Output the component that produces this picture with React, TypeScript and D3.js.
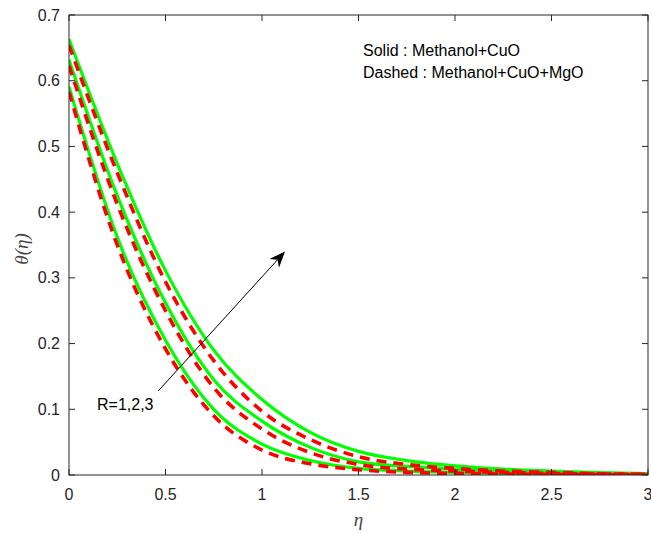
import React from "react";
import * as d3 from "d3";

const eta = [0, 0.25, 0.5, 0.75, 1.0, 1.25, 1.5, 1.75, 2.0, 2.25, 2.5, 2.75, 3.0];

// Solid: Methanol+CuO, R = 1, 2, 3
const solidR1 = [0.591, 0.362, 0.205, 0.1, 0.047, 0.022, 0.01, 0.006, 0.004, 0.0025, 0.0015, 0.001, 0.0005];
const solidR2 = [0.632, 0.425, 0.262, 0.145, 0.082, 0.042, 0.02, 0.013, 0.009, 0.006, 0.004, 0.002, 0.001];
const solidR3 = [0.663, 0.474, 0.311, 0.19, 0.115, 0.065, 0.036, 0.022, 0.014, 0.009, 0.006, 0.0035, 0.002];

// Dashed: Methanol+CuO+MgO, R = 1, 2, 3
const dashedR1 = [0.583, 0.35, 0.192, 0.09, 0.038, 0.017, 0.008, 0.004, 0.0025, 0.0015, 0.001, 0.0005, 0];
const dashedR2 = [0.623, 0.412, 0.25, 0.133, 0.07, 0.034, 0.016, 0.009, 0.006, 0.004, 0.0025, 0.0015, 0.001];
const dashedR3 = [0.654, 0.46, 0.294, 0.174, 0.097, 0.054, 0.028, 0.016, 0.01, 0.006, 0.004, 0.002, 0.001];

const xTicks = [0, 0.5, 1, 1.5, 2, 2.5, 3];
const xTickLabels = ["0", "0.5", "1", "1.5", "2", "2.5", "3"];
const yTicks = [0, 0.1, 0.2, 0.3, 0.4, 0.5, 0.6, 0.7];
const yTickLabels = ["0", "0.1", "0.2", "0.3", "0.4", "0.5", "0.6", "0.7"];

const legendLines = ["Solid : Methanol+CuO", "Dashed : Methanol+CuO+MgO"];
const annotationText = "R=1,2,3";
const arrowFrom = [0.463, 0.128];
const arrowTo = [1.119, 0.34];

const W = 651;
const H = 533;
const L = 69, R = 648, T = 15, B = 475;
const axisColor = "#262626";
const font = "'Liberation Sans', Arial, sans-serif";

export default function App() {
  const x = d3.scaleLinear().domain([0, 3]).range([L, R]);
  const y = d3.scaleLinear().domain([0, 0.7]).range([B, T]);
  const line = d3
    .line<number>()
    .x((_, i) => x(eta[i]))
    .y((d) => y(d))
    .curve(d3.curveMonotoneX);

  const solids = [solidR1, solidR2, solidR3];
  const dashes = [dashedR1, dashedR2, dashedR3];

  const ax0 = x(arrowFrom[0]), ay0 = y(arrowFrom[1]);
  const ax1 = x(arrowTo[0]), ay1 = y(arrowTo[1]);
  const ang = Math.atan2(ay1 - ay0, ax1 - ax0);
  const hl = 16, hw = 6.5, notch = 11;
  const ux = Math.cos(ang), uy = Math.sin(ang);
  const px = -uy, py = ux;
  const head = [
    [ax1, ay1],
    [ax1 - ux * hl + px * hw, ay1 - uy * hl + py * hw],
    [ax1 - ux * notch, ay1 - uy * notch],
    [ax1 - ux * hl - px * hw, ay1 - uy * hl - py * hw],
  ];

  return (
    <svg
      width={W}
      height={H}
      style={{ position: "absolute", left: 0, top: 0, background: "#fff" }}
    >
      <rect x={0} y={0} width={W} height={H} fill="#fff" />
      <defs>
        <clipPath id="plotclip">
          <rect x={L} y={T} width={R - L} height={B - T} />
        </clipPath>
      </defs>
      <g clipPath="url(#plotclip)">
        {solids.map((s, i) => (
          <path key={"s" + i} d={line(s) || ""} fill="none" stroke="#00ff00" strokeWidth={3.2} />
        ))}
        {dashes.map((s, i) => (
          <path
            key={"d" + i}
            d={line(s) || ""}
            fill="none"
            stroke="#ff0000"
            strokeWidth={3.6}
            strokeDasharray="10 7"
          />
        ))}
      </g>
      {/* box */}
      <rect x={L} y={T} width={R - L} height={B - T} fill="none" stroke={axisColor} strokeWidth={1} />
      {/* ticks */}
      {xTicks.map((t, i) => (
        <g key={"xt" + i}>
          <line x1={x(t)} x2={x(t)} y1={B} y2={B - 6} stroke={axisColor} />
          <line x1={x(t)} x2={x(t)} y1={T} y2={T + 6} stroke={axisColor} />
          <text
            x={x(t)}
            y={B + 25}
            textAnchor="middle"
            fontFamily={font}
            fontSize={16}
            fill={axisColor}
          >
            {xTickLabels[i]}
          </text>
        </g>
      ))}
      {yTicks.map((t, i) => (
        <g key={"yt" + i}>
          <line x1={L} x2={L + 6} y1={y(t)} y2={y(t)} stroke={axisColor} />
          <line x1={R} x2={R - 6} y1={y(t)} y2={y(t)} stroke={axisColor} />
          <text
            x={L - 9}
            y={y(t) + 5.5}
            textAnchor="end"
            fontFamily={font}
            fontSize={16}
            fill={axisColor}
          >
            {yTickLabels[i]}
          </text>
        </g>
      ))}
      {/* axis labels */}
      <text
        x={(L + R) / 2}
        y={526}
        textAnchor="middle"
        fontFamily="'Liberation Serif', 'DejaVu Serif', serif"
        fontStyle="italic"
        fontSize={19}
        fill="#444"
      >
        η
      </text>
      <text
        transform={`translate(28, ${(T + B) / 2 + 4}) rotate(-90)`}
        textAnchor="middle"
        fontFamily="'Liberation Serif', 'DejaVu Serif', serif"
        fontStyle="italic"
        fontSize={19}
        fill="#444"
      >
        θ(η)
      </text>
      {/* legend text */}
      {legendLines.map((t, i) => (
        <text
          key={"lg" + i}
          x={363}
          y={56 + i * 21.5}
          fontFamily={font}
          fontSize={16}
          fill="#000"
        >
          {t}
        </text>
      ))}
      {/* arrow annotation */}
      <line x1={ax0} y1={ay0} x2={ax1 - ux * notch} y2={ay1 - uy * notch} stroke="#000" strokeWidth={1} />
      <path d={"M" + head.map((p) => p.join(",")).join("L") + "Z"} fill="#000" />
      <text x={97} y={410} fontFamily={font} fontSize={16} fill="#000">
        {annotationText}
      </text>
    </svg>
  );
}
